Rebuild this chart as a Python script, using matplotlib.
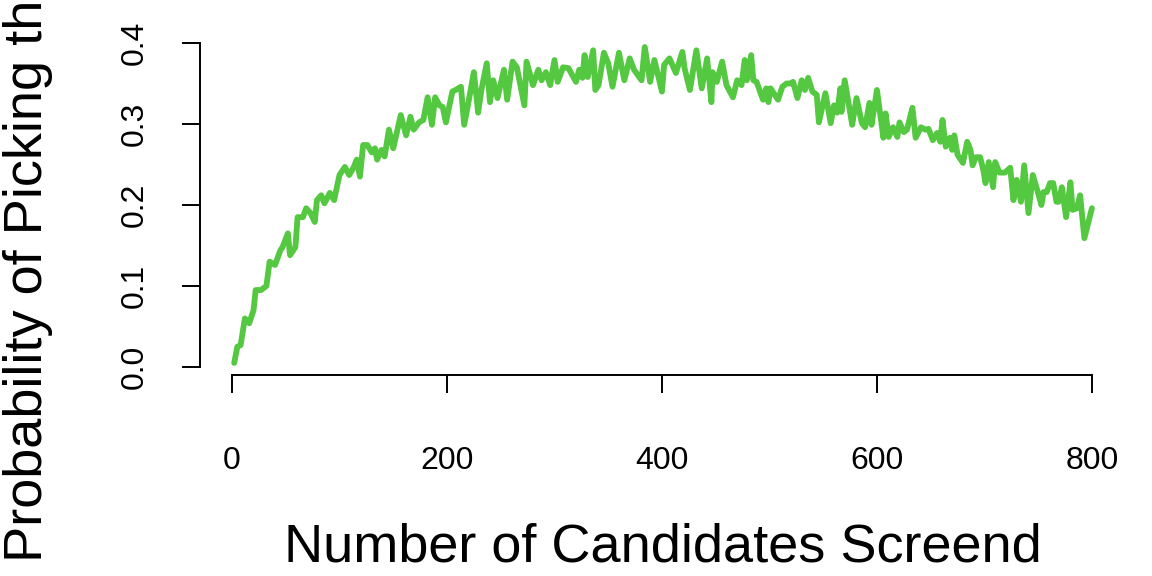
import numpy as np
import matplotlib
matplotlib.use("Agg")
import matplotlib.pyplot as plt

plt.rcParams['font.family'] = ['Liberation Sans', 'DejaVu Sans']

# number of candidates screened vs probability of picking the best
n_screened = [2, 5, 8, 12, 16, 20, 22, 27, 32, 35, 40, 45, 47, 52, 54, 59, 61, 66, 69, 73,
              77, 79, 83, 86, 91, 95,
              100, 105, 109, 113, 116, 119, 122, 126, 130, 133, 135, 139, 142, 146, 150,
              157, 162, 166, 169, 174, 178, 182, 186, 189, 193,
              196, 199, 205, 208, 213, 216, 220, 225, 229, 232, 237, 240, 243, 247, 253,
              256, 261, 265, 272, 274, 280, 285, 288, 292, 296, 300, 303, 308, 313, 320,
              323, 326, 328, 331, 336, 338, 341, 346, 350, 354, 360, 365, 370, 374, 381,
              384, 389, 393,
              400, 402, 407, 413, 419, 421, 426, 432, 437, 442, 446, 447, 451, 456, 460,
              466, 470, 474, 477, 479, 483, 485, 488, 494, 497, 499, 501, 508, 512, 516,
              520, 522, 526, 530, 533, 536, 540, 544, 546, 552, 557, 560, 563, 566, 567,
              570, 577, 581, 586, 589,
              593, 595, 600, 606, 608, 611, 615, 619, 621, 625, 628, 633, 636, 641, 645,
              648, 652, 656, 659, 661, 664, 668, 670, 672, 675, 680, 684, 687, 689, 692,
              696, 699, 701, 704, 708, 710, 714, 719, 724, 727, 730, 734, 737, 741, 745,
              749, 753, 755, 758, 761, 764, 767, 769, 772, 776, 780, 782, 786, 789, 793,
              796, 800]
p_best = [.005, .025, .027, .06, .054, .07, .095, .095, .10, .13, .126, .144, .148, .165, .138,
          .148, .185, .185, .196, .19, .179, .206, .212, .202, .215, .206,
          .237, .247, .237, .246, .256, .235, .274, .274, .265, .27, .256, .268, .26, .293,
          .27, .311, .286, .309, .293, .302, .305, .333, .299, .333, .323,
          .321, .302, .34, .342, .346, .299, .327, .364, .314, .342, .375, .327, .354, .332,
          .367, .33, .377, .37, .323, .377, .348, .367, .354, .364, .348, .379, .352, .37,
          .369, .352, .367, .357, .385, .358, .391, .342, .348, .388, .375, .346, .388, .354,
          .381, .367, .354, .395, .352, .379,
          .34, .373, .381, .363, .389, .369, .342, .391, .344, .381, .327, .364, .352, .377,
          .348, .333, .354, .348, .379, .354, .385, .354, .352, .33, .344, .327, .344, .33,
          .346, .35, .35, .352, .332, .354, .342, .357, .34, .336, .302, .338, .301, .323,
          .314, .344, .315, .354, .299, .332, .301, .296,
          .326, .299, .342, .283, .313, .284, .296, .284, .302, .29, .293, .32, .283, .296,
          .293, .294, .28, .289, .278, .305, .272, .283, .268, .286, .262, .252, .278, .268,
          .249, .259, .259, .243, .227, .253, .222, .253, .24, .24, .246, .206, .231, .204,
          .249, .19, .237, .219, .2, .216, .216, .227, .227, .204, .204, .222, .185, .228,
          .194, .196, .212, .159, .175, .196]

x_ticks = [0, 200, 400, 600, 800]
y_ticks = [0.0, 0.1, 0.2, 0.3, 0.4]

fig = plt.figure(figsize=(11.52, 5.76), dpi=100)
ax = fig.add_axes([0.1734, 0.3488, 0.8043, 0.5906])

ax.plot(n_screened, p_best, color='#54C841', lw=4.2, solid_joinstyle='round',
        solid_capstyle='round')

ax.set_xlim(-30, 832)
ax.set_ylim(-0.01, 0.41)
ax.set_xticks(x_ticks)
ax.set_yticks(y_ticks)
ax.set_yticklabels(['%.1f' % v for v in y_ticks], rotation=90, va='center')

for s in ['top', 'right']:
    ax.spines[s].set_visible(False)
ax.spines['bottom'].set_bounds(0, 800)
ax.spines['left'].set_bounds(0, 0.4)
for s in ['bottom', 'left']:
    ax.spines[s].set_linewidth(1.4)

ax.tick_params(axis='x', length=13, width=1.4, pad=38, labelsize=23)
ax.tick_params(axis='y', length=13, width=1.4, pad=23, labelsize=23)

ax.set_xlabel('Number of Candidates Screend', fontsize=39, va='center')
ax.xaxis.set_label_coords(0.5, -0.508)

fig.text(28 / 1152, 1 - 562 / 576, 'Probability of Picking th', fontsize=39,
         rotation=90, ha='center', va='bottom')

fig.savefig('out.png', dpi=100)
